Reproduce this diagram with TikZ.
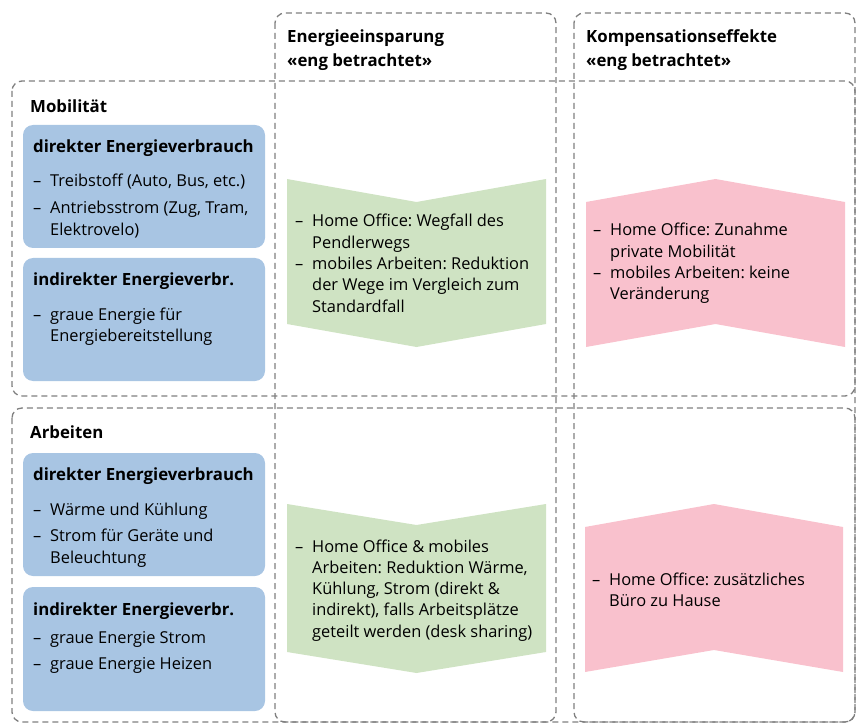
\documentclass[tikz,border=0pt]{standalone}
\usepackage{fontspec}
\setmainfont{Open Sans}
\usepackage{tikz}
\usetikzlibrary{positioning}

\definecolor{consblue}{HTML}{A8C5E3}
\definecolor{savegreen}{HTML}{CFE3C3}
\definecolor{reboundpink}{HTML}{F9C1CD}
\definecolor{framegray}{HTML}{7F7F7F}

\newlength{\itmind}\setlength{\itmind}{17pt}
% one list item: dash, then the first line
\newcommand{\itm}{\makebox[\itmind][l]{--}}
% continuation line of an item
\newcommand{\cont}{\hspace*{\itmind}}
\newcommand{\lines}[1]{\frenchspacing\begin{tabular}[t]{@{}l@{}}#1\end{tabular}}

\tikzset{
  frame/.style={draw=framegray, line width=1.3pt, dash pattern=on 6pt off 4pt, rounded corners=10pt},
  consbox/.style={fill=consblue, rounded corners=10pt},
  title/.style={anchor=base west, inner sep=0pt,
    font=\bfseries\fontsize{16.8}{24}\selectfont},
  items/.style={anchor=base west, inner sep=0pt,
    font=\fontsize{16.4}{21.3}\selectfont},
}

\begin{document}
\begin{tikzpicture}[x=1pt,y=-1pt]
      \useasboundingbox (0,0) rectangle (856,727);
      % blue boxes
      \fill[consbox] (23,125) rectangle (265,248);
      \fill[consbox] (23,258) rectangle (265,381);
      \fill[consbox] (23,453) rectangle (265,576);
      \fill[consbox] (23,587) rectangle (265,711);
      % chevrons
      \fill[savegreen] (287,179) -- (416.5,202) -- (546,179) -- (546,324) -- (416.5,347) -- (287,324) -- cycle;
      \fill[savegreen] (287,504) -- (416.5,525) -- (546,504) -- (546,652) -- (416.5,673) -- (287,652) -- cycle;
      \fill[reboundpink] (586,202) -- (715.5,179) -- (845,202) -- (845,347) -- (715.5,324) -- (586,347) -- cycle;
      \fill[reboundpink] (585,527) -- (714,504) -- (843,527) -- (843,672) -- (714,650) -- (585,672) -- cycle;
      % dashed frames
      \draw[frame] (275,13) rectangle (556,722);
      \draw[frame] (574,13) rectangle (855,722);
      \draw[frame] (12,81) rectangle (855,396);
      \draw[frame] (12,408) rectangle (855,722);
      % column heads
      \node[title] (savehead) at (287,43) {\lines{Energieeinsparung\\«eng betrachtet»}};
      \node[title] (effhead) at (586,43) {\lines{Kompensationseffekte\\«eng betrachtet»}};
      % row: Mobilitaet
      \node[title] (mobhead) at (30,113) {Mobilität};
      \node[title] (mobdir) at (33,153) {direkter Energieverbrauch};
      \node[items] (mobdiritems) at (33,187)
        {\lines{\itm Treibstoff (Auto, Bus, etc.)\\[5.5pt]
          \itm Antriebsstrom (Zug, Tram,\\ \cont Elektrovelo)}};
      \node[title] (mobind) at (33,285) {indirekter Energieverbr.};
      \node[items] (mobinditems) at (33,320)
        {\lines{\itm graue Energie für\\ \cont Energiebereitstellung}};
      \node[items] (mobsave) at (295,227)
        {\lines{\itm Home Office: Wegfall des\\ \cont Pendlerwegs\\
          \itm mobiles Arbeiten: Reduktion\\ \cont der Wege im Vergleich zum\\ \cont Standardfall}};
      \node[items] (mobeff) at (593,236)
        {\lines{\itm Home Office: Zunahme\\ \cont private Mobilität\\
          \itm mobiles Arbeiten: keine\\ \cont Veränderung}};
      % row: Arbeiten
      \node[title] (workhead) at (30,438) {Arbeiten};
      \node[title] (workdir) at (33,480) {direkter Energieverbrauch};
      \node[items] (workdiritems) at (33,515)
        {\lines{\itm Wärme und Kühlung\\[5.5pt]
          \itm Strom für Geräte und\\ \cont Beleuchtung}};
      \node[title] (workind) at (33,615) {indirekter Energieverbr.};
      \node[items] (workinditems) at (33,643)
        {\lines{\itm graue Energie Strom\\[5.5pt] \itm graue Energie Heizen}};
      \node[items] (worksave) at (295,552)
        {\lines{\itm Home Office \& mobiles\\ \cont Arbeiten: Reduktion Wärme,\\
          \cont Kühlung, Strom (direkt \&\\ \cont indirekt), falls Arbeitsplätze\\
          \cont geteilt werden (desk sharing)}};
      \node[items] (workeff) at (592,585)
        {\lines{\itm Home Office: zusätzliches\\ \cont Büro zu Hause}};
\end{tikzpicture}
\end{document}
